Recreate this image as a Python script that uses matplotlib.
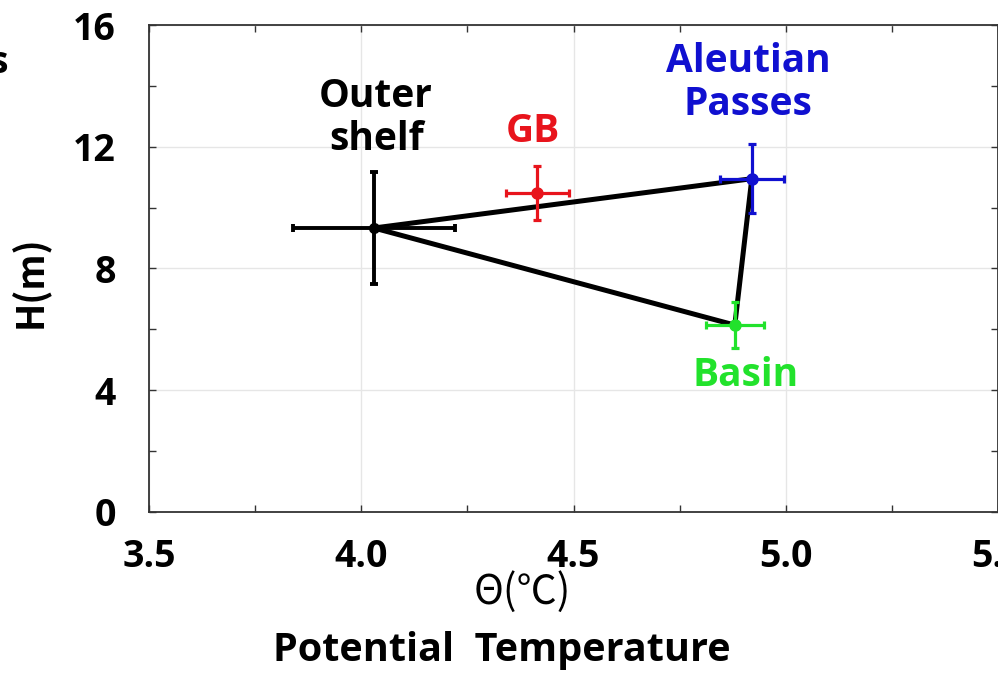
import matplotlib
matplotlib.use("Agg")
import matplotlib.pyplot as plt
from matplotlib.ticker import MultipleLocator

plt.rcParams['font.family'] = ['Open Sans', 'DejaVu Sans']

# Data
names = ["Outer\nshelf", "GB", "Aleutian\nPasses", "Basin"]
theta = [4.03, 4.415, 4.92, 4.88]
height = [9.33, 10.48, 10.95, 6.14]
theta_err = [0.19, 0.075, 0.075, 0.068]
height_err = [1.84, 0.88, 1.14, 0.76]
colors = ["#000000", "#e8141c", "#1010d0", "#22e22c"]
# Triangle order: Outer shelf -> Aleutian Passes -> Basin -> Outer shelf
tri_idx = [0, 2, 3, 0]

xticks = [3.5, 4.0, 4.5, 5.0, 5.5]
xticklabels = ["3.5", "4.0", "4.5", "5.0", "5.5"]
yticks = [0, 4, 8, 12, 16]
yticklabels = ["0", "4", "8", "12", "16"]

fig = plt.figure(figsize=(9.98, 6.74), dpi=100)
ax = fig.add_axes([0.1493, 0.2404, 0.8507, 0.7225])
ax.set_xlim(3.5, 5.5)
ax.set_ylim(0, 16)

# grid
ax.grid(True, which='major', color='#e6e6e6', linewidth=1.0, zorder=0)

# triangle
ax.plot([theta[i] for i in tri_idx], [height[i] for i in tri_idx],
        color='black', linewidth=3.6, zorder=3, solid_joinstyle='miter')

# error bars
for i in range(len(names)):
    lw = 2.8 if i == 0 else 2.3
    ms = 7 if i == 0 else 8
    ax.errorbar(theta[i], height[i], xerr=theta_err[i], yerr=height_err[i],
                fmt='o', color=colors[i], ecolor=colors[i], markersize=ms,
                elinewidth=lw, capsize=3, capthick=lw, zorder=4)

# labels
lab_pos = [(4.035, 12.95), (4.405, 12.5), (4.912, 14.1), (4.906, 4.5)]
for i, (lx, ly) in enumerate(lab_pos):
    ax.text(lx, ly, names[i], color=colors[i], fontsize=28, fontweight='bold',
            ha='center', va='center', linespacing=1.15, zorder=5)

ax.set_xticks(xticks)
ax.set_xticklabels(xticklabels)
ax.set_yticks(yticks)
ax.set_yticklabels(yticklabels)
ax.xaxis.set_minor_locator(MultipleLocator(0.25))
ax.yaxis.set_minor_locator(MultipleLocator(2))
ax.tick_params(which='both', direction='in', top=True, right=True,
               length=5, width=1.0, color='#333333')
ax.tick_params(axis='x', which='major', labelsize=27, pad=19)
ax.tick_params(axis='y', which='major', labelsize=27, pad=24)
for lab in ax.get_xticklabels() + ax.get_yticklabels():
    lab.set_fontweight('bold')
for sp in ax.spines.values():
    sp.set_linewidth(1.3)
    sp.set_color('#333333')

fig.text(30/998, 1 - 282/674, "H(m)", fontsize=27, fontweight='bold',
         rotation=90, ha='center', va='center',
         family=['Noto Sans CJK KR', 'DejaVu Sans'])
fig.text(522/998, 1 - 592/674, "Θ(℃)", fontsize=29, ha='center', va='center',
         family=['Noto Sans CJK KR', 'DejaVu Sans'])
fig.text(502/998, 1 - 650/674, "Potential  Temperature", fontsize=28.5,
         fontweight='bold', ha='center', va='center')
fig.text(0.008, 1 - 73/674, "s", fontsize=27, fontweight='bold', ha='right',
         va='baseline')

fig.savefig("out.png", dpi=100)
